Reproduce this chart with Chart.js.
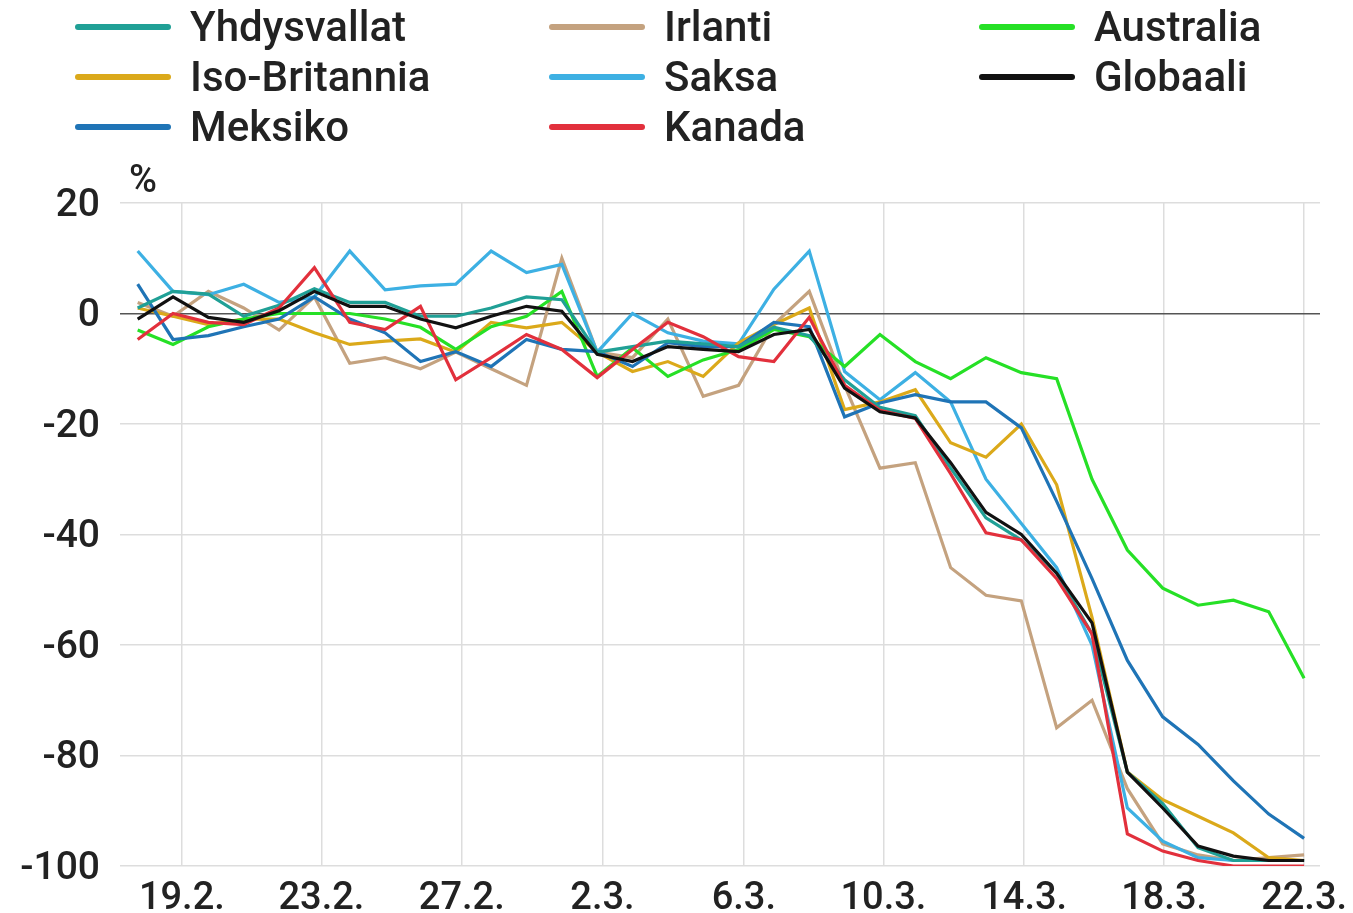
<!DOCTYPE html>
<html><head><meta charset="utf-8">
<script src="https://cdn.jsdelivr.net/npm/chart.js@4"></script>
<style>html,body{margin:0;padding:0;background:#fff}#wrap{width:1353px;height:913px}</style>
</head><body><div id="wrap"><canvas id="c" width="1353" height="913"></canvas></div>
<script>
// ---- data ----
const dates = ['18.2.','19.2.','20.2.','21.2.','22.2.','23.2.','24.2.','25.2.','26.2.','27.2.','28.2.','29.2.',
  '1.3.','2.3.','3.3.','4.3.','5.3.','6.3.','7.3.','8.3.','9.3.','10.3.','11.3.','12.3.','13.3.','14.3.','15.3.',
  '16.3.','17.3.','18.3.','19.3.','20.3.','21.3.','22.3.'];
const tickLabels = ['19.2.','23.2.','27.2.','2.3.','6.3.','10.3.','14.3.','18.3.','22.3.'];
const tickAt = [1.25, 5.2, 9.17, 13.15, 17.15, 21.1, 25.08, 29.04, 33];
const yTicks = [20, 0, -20, -40, -60, -80, -100];

const yhdysvallat = [1, 4, 3.5, -0.5, 1.5, 4.5, 2, 2, -0.5, -0.5, 1, 3, 2.5, -7, -6, -5, -5.5, -6, -2.5, -4,
  -12, -17, -18.5, -28, -37, -41, -47, -58, -83, -88.7, -96.7, -99, -99, -99];
const irlanti = [2, -0.5, 4, 1, -3, 3, -9, -8, -10, -7, -10, -13, 10, -7, -8, -1, -15, -13, -2, 4,
  -13, -28, -27, -46, -51, -52, -75, -70, -86, -96, -98, -99, -98.5, -98];
const australia = [-3, -5.6, -2.4, -1, 0, 0, 0, -1, -2.5, -6.5, -2.4, -0.5, 4, -11.4, -6.2, -11.4, -8.4, -6.5, -2.9, -4.2,
  -9.6, -3.8, -8.7, -11.8, -8, -10.7, -11.8, -30, -42.8, -49.7, -52.8, -51.9, -54, -66];
const isoBritannia = [1, -0.5, -2, -1, -1, -3.5, -5.6, -5, -4.6, -7, -1.6, -2.6, -1.6, -7, -10.5, -8.7, -11.4, -5.3, -2, 1,
  -17.4, -16, -13.8, -23.4, -26, -20, -31, -55, -83, -88, -91, -94, -98.5, -99];
const saksa = [11.3, 4, 3.4, 5.3, 2, 3, 11.3, 4.3, 5, 5.3, 11.3, 7.4, 8.9, -7, 0, -3.5, -5, -5.5, 4.4, 11.3,
  -10.5, -15.6, -10.7, -16, -30, -38, -46, -60, -89.5, -95.5, -98.5, -99, -99, -99];
const globaali = [-1, 3, -0.7, -1.6, 0.5, 4, 1.3, 1.3, -1, -2.6, -0.5, 1.3, 0.4, -7.4, -8.7, -6, -6.5, -6.9, -3.8, -2.9,
  -13.5, -17.8, -18.9, -27, -36, -40, -47, -56, -83, -89.5, -96.4, -98.2, -99, -99];
const meksiko = [5.3, -4.7, -4, -2.4, -1, 3, -1, -3.5, -8.7, -6.9, -9.6, -4.7, -6.5, -6.9, -9.6, -5.3, -6, -6, -1.6, -2.4,
  -18.7, -16.2, -14.7, -16, -16, -20.7, -34, -48, -62.8, -73, -78, -84.6, -90.6, -95];
const kanada = [-4.7, 0, -1.6, -2, 1, 8.3, -1.6, -2.9, 1.3, -12, -8, -3.8, -6.5, -11.6, -6.5, -1.6, -4.2, -7.8, -8.7, -0.7,
  -13, -17.5, -19, -29, -39.7, -41, -48, -58, -94.2, -97.3, -99, -100, -100, -100];

const seriesNames = ['Yhdysvallat','Irlanti','Australia','Iso-Britannia','Saksa','Globaali','Meksiko','Kanada'];
const seriesValues = [yhdysvallat, irlanti, australia, isoBritannia, saksa, globaali, meksiko, kanada];
const seriesColors = ['#20a096','#c4a27f','#26e026','#dba91a','#3db0e3','#111111','#1f74b6','#e2303c'];
const seriesOrder = [3, 5, 4, 4, 4, 0, 3, 1];

// ---- chart ----
const FONT = 'Roboto, "Open Sans", sans-serif';
const TXT = '#222222';

const legendPlugin = {
  id: 'gridLegend',
  afterDraw(chart) {
    const ctx = chart.ctx;
    const colX = [78, 552, 982];
    ctx.save();
    ctx.font = '500 42px ' + FONT;
    ctx.textBaseline = 'middle';
    ctx.textAlign = 'left';
    chart.data.datasets.forEach((ds, k) => {
      const col = k % 3, row = Math.floor(k / 3);
      const x = colX[col], y = 27 + row * 50;
      ctx.strokeStyle = ds.borderColor;
      ctx.lineWidth = 6;
      ctx.lineCap = 'round';
      ctx.beginPath(); ctx.moveTo(x, y); ctx.lineTo(x + 90, y); ctx.stroke();
      ctx.fillStyle = TXT;
      ctx.fillText(ds.label, x + 112, y + 3);
    });
    ctx.font = '500 38px ' + FONT;
    ctx.textAlign = 'center';
    ctx.fillText('%', chart.chartArea.left + 23, chart.chartArea.top - 21);
    ctx.restore();
  }
};

new Chart(document.getElementById('c'), {
  type: 'line',
  data: {
    datasets: seriesNames.map((name, k) => ({
      label: name,
      data: seriesValues[k].map((v, i) => ({x: i, y: v})),
      borderColor: seriesColors[k],
      backgroundColor: seriesColors[k],
      borderWidth: 3.2,
      pointRadius: 0,
      tension: 0,
      fill: false,
      order: seriesOrder[k]
    }))
  },
  options: {
    responsive: false,
    animation: false,
    devicePixelRatio: 1,
    layout: {padding: {top: 203, right: 33, left: 0, bottom: 0}},
    plugins: {legend: {display: false}, tooltip: {enabled: false}, title: {display: false}},
    scales: {
      x: {
        type: 'linear',
        min: -0.5,
        max: 33.45,
        afterBuildTicks: (axis) => { axis.ticks = tickAt.map(v => ({value: v})); },
        afterFit: (scale) => { scale.height = 47; scale.paddingLeft = 0; scale.paddingRight = 0; },
        ticks: {
          autoSkip: false, maxRotation: 0, padding: 11,
          color: TXT, font: {family: FONT, size: 38, weight: '500'},
          callback: (v, i) => tickLabels[i]
        },
        grid: {color: '#dddddd', lineWidth: 1.5, drawTicks: false},
        border: {display: false}
      },
      y: {
        min: -100, max: 20,
        afterBuildTicks: (axis) => { axis.ticks = yTicks.map(v => ({value: v})); },
        afterFit: (scale) => { scale.width = 120; scale.paddingTop = 0; scale.paddingBottom = 0; },
        ticks: {
          padding: 20, labelOffset: 3, color: TXT, font: {family: FONT, size: 39, weight: '500'},
          callback: (v) => String(v)
        },
        grid: {
          color: (c) => c.tick && c.tick.value === 0 ? '#555555' : '#dddddd',
          lineWidth: 1.5,
          drawTicks: false
        },
        border: {display: false}
      }
    }
  },
  plugins: [legendPlugin]
});
</script>
</body></html>
